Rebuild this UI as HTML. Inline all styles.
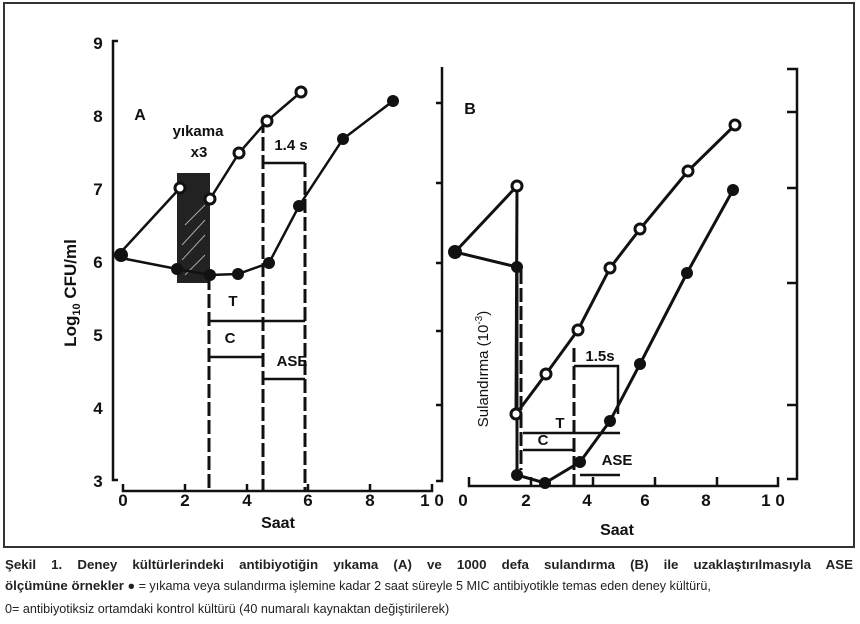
<!DOCTYPE html>
<html><head><meta charset="utf-8"><style>
body{margin:0;background:#fff;width:860px;height:624px;overflow:hidden;font-family:"Liberation Sans",sans-serif}
svg{position:absolute;left:0;top:0}
.cap{position:absolute;left:5px;width:848px;font-size:13.3px;color:#222;text-align:justify;text-align-last:justify;white-space:nowrap}
</style></head><body>
<svg width="860" height="624" viewBox="0 0 860 624" font-family="Liberation Sans, sans-serif" font-weight="bold">
<rect x="4" y="3" width="850" height="544" fill="none" stroke="#333" stroke-width="2"/>
<g stroke="#111" stroke-width="2.5" fill="none">
<path d="M118,41 H113 V480 H118"/>
<path d="M123,484 V491 H432 V484 M185,484 V491 M247,484 V491 M308,484 V491 M370,484 V491"/>
<path d="M442,67 V481 H436 M436,103 H442 M436,183 H442 M436,263 H442 M436,331 H442 M436,405 H442"/>
<path d="M469,477 V486 H778 V477 M531,477 V486 M593,477 V486 M655,477 V486 M717,477 V486"/>
<path d="M787,69 H797 V479 H787 M787,112 H797 M787,188 H797 M787,283 H797 M787,405 H797"/>
</g>
<g fill="#111" font-size="17" text-anchor="middle">
<text x="98" y="49">9</text><text x="98" y="122">8</text><text x="98" y="195">7</text><text x="98" y="268">6</text><text x="98" y="341">5</text><text x="98" y="414">4</text><text x="98" y="487">3</text>
<text x="123" y="506">0</text><text x="185" y="506">2</text><text x="247" y="506">4</text><text x="308" y="506">6</text><text x="370" y="506">8</text><text x="432" y="506">1 0</text>
<text x="463" y="506">0</text><text x="526" y="506">2</text><text x="587" y="506">4</text><text x="645" y="506">6</text><text x="706" y="506">8</text><text x="773" y="506">1 0</text>
<text x="278" y="528" font-size="16">Saat</text><text x="617" y="535" font-size="16">Saat</text>
<text x="140" y="120" font-size="16">A</text><text x="470" y="114" font-size="16">B</text>
<text x="198" y="136" font-size="15">yıkama</text><text x="199" y="157" font-size="15">x3</text>
<text x="291" y="150" font-size="15">1.4 s</text>
<text x="233" y="306" font-size="15">T</text><text x="230" y="343" font-size="15">C</text><text x="292" y="366" font-size="15">ASE</text>
<text x="600" y="361" font-size="15">1.5s</text>
<text x="560" y="428" font-size="15">T</text><text x="543" y="445" font-size="15">C</text><text x="617" y="465" font-size="15">ASE</text>
<text transform="translate(76,293) rotate(-90)" font-size="17">Log<tspan font-size="11" dy="4">10</tspan><tspan dy="-4"> CFU/ml</tspan></text>
<text transform="translate(488,369) rotate(-90)" font-size="15" font-weight="normal">Sulandırma (10<tspan font-size="10" dy="-6">-3</tspan><tspan dy="6">)</tspan></text>
</g>
<rect x="177" y="173" width="33" height="110" fill="#222"/>
<g stroke="#fff" stroke-width="1" opacity="0.6"><path d="M182,260 L205,235 M182,245 L205,220 M185,275 L205,255 M185,225 L205,205"/></g>
<g stroke="#111" stroke-width="3" fill="none" stroke-dasharray="14,4">
<path d="M209,276 V490 M263,119 V490 M305,163 V490"/>
<path d="M574,348 V485"/>
<path d="M517,270 V475 M521,270 V470"/>
</g>
<g stroke="#111" stroke-width="2.5" fill="none">
<path d="M263,163 H305 M209,321 H305 M209,357 H263 M263,379 H305"/>
<path d="M574,366 H618 V414 M523,433 H620 M523,450 H574 M580,475 H620"/>
<path d="M121,252 L180,188 M210,199 L239,153 L267,121 L301,92"/>
<path d="M121,258 L177,269 L210,275 L238,274 L269,263 L299,206 L343,139 L393,101"/>
<path d="M455,252 L517,186 L516,414 L546,374 L578,330 L610,268 L640,229 L688,171 L735,125" stroke-width="3"/>
<path d="M455,252 L517,267 L517,475 L545,483 L580,462 L610,421 L640,364 L687,273 L733,190" stroke-width="3"/>
</g>
<g fill="#fff" stroke="#111" stroke-width="3">
<circle cx="180" cy="188" r="5"/><circle cx="210" cy="199" r="5"/><circle cx="239" cy="153" r="5"/><circle cx="267" cy="121" r="5"/><circle cx="301" cy="92" r="5"/>
<circle cx="517" cy="186" r="5"/><circle cx="516" cy="414" r="5"/><circle cx="546" cy="374" r="5"/><circle cx="578" cy="330" r="5"/><circle cx="610" cy="268" r="5"/><circle cx="640" cy="229" r="5"/><circle cx="688" cy="171" r="5"/><circle cx="735" cy="125" r="5"/>
</g>
<g fill="#111">
<circle cx="121" cy="255" r="7"/><circle cx="177" cy="269" r="6"/><circle cx="210" cy="275" r="6"/><circle cx="238" cy="274" r="6"/><circle cx="269" cy="263" r="6"/><circle cx="299" cy="206" r="6"/><circle cx="343" cy="139" r="6"/><circle cx="393" cy="101" r="6"/>
<circle cx="455" cy="252" r="7"/><circle cx="517" cy="267" r="6"/><circle cx="517" cy="475" r="6"/><circle cx="545" cy="483" r="6"/><circle cx="580" cy="462" r="6"/><circle cx="610" cy="421" r="6"/><circle cx="640" cy="364" r="6"/><circle cx="687" cy="273" r="6"/><circle cx="733" cy="190" r="6"/>
</g>
</svg>
<div class="cap" style="top:557px;font-weight:bold">Şekil 1. Deney kültürlerindeki antibiyotiğin yıkama (A) ve 1000 defa sulandırma (B) ile uzaklaştırılmasıyla ASE</div>
<div class="cap" style="top:578px;text-align-last:left;font-size:12.6px"><b style="font-size:13.3px">ölçümüne örnekler</b> ● = yıkama veya sulandırma işlemine kadar 2 saat süreyle 5 MIC antibiyotikle temas eden deney kültürü,</div>
<div class="cap" style="top:602px;text-align-last:left;font-size:12.6px">0= antibiyotiksiz ortamdaki kontrol kültürü (40 numaralı kaynaktan değiştirilerek)</div>
</body></html>
